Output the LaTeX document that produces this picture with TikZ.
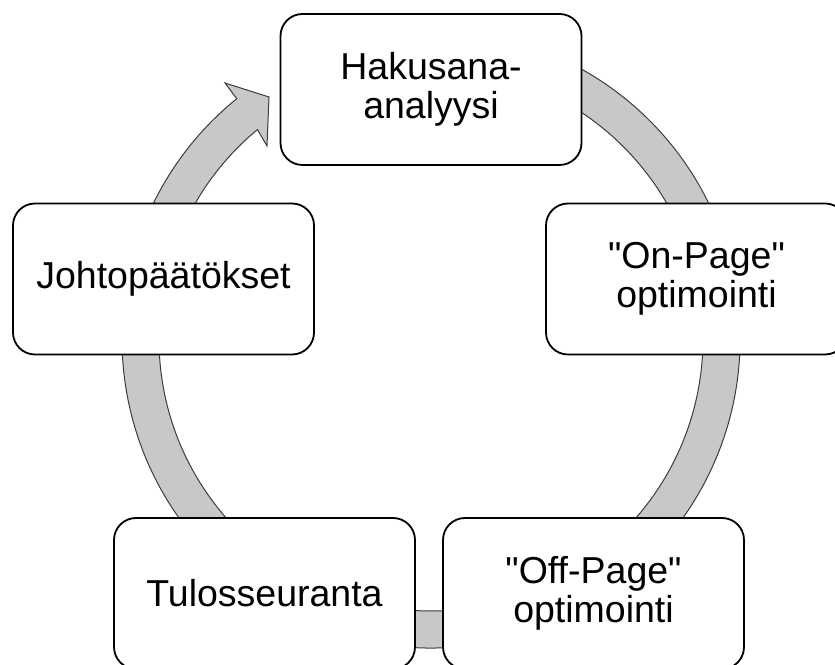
\documentclass[tikz,border=0pt]{standalone}
\usepackage{fontspec}
\setmainfont[Ligatures=TeXOff]{Liberation Sans}
\definecolor{ringgray}{RGB}{200,200,200}
\definecolor{ringline}{RGB}{60,60,60}
\begin{document}
\begin{tikzpicture}[x=1pt,y=1pt,
  stagebox/.style={draw=black, line width=1.8pt, fill=white, rounded corners=22pt,
    minimum width=301pt, minimum height=151pt, inner sep=0pt, align=center,
    font=\fontsize{37.5}{39}\selectfont},
  ring/.style={fill=ringgray, draw=ringline, line width=1pt, line join=miter}]
\useasboundingbox (0,0) rectangle (835,664);
\clip (0,0) rectangle (835,664);
\coordinate (rc) at (431,325);
\coordinate (barbout) at (225,581);
\coordinate (tip) at (269,567);
\coordinate (barbin) at (267,518);
% ring with arrowhead
\draw[ring] ([shift={(rc)}]100:309) arc[start angle=100, end angle=-231.05, radius=309]
  -- (barbout) -- (tip) -- (barbin)
  -- ([shift={(rc)}]-230.35:272) arc[start angle=-230.35, end angle=100, radius=272] -- cycle;
% boxes
\node[stagebox] (haku) at (431,574.5) {Hakusana-\\analyysi};
\node[stagebox] (onpage) at (696.5,385) {"On-Page"\\optimointi};
\node[stagebox] (offpage) at (593.5,70.5) {"Off-Page"\\optimointi};
\node[stagebox] (tulos) at (264.5,70.5) {Tulosseuranta};
\node[stagebox] (johto) at (163.5,385) {Johtopäätökset};
\end{tikzpicture}
\end{document}
